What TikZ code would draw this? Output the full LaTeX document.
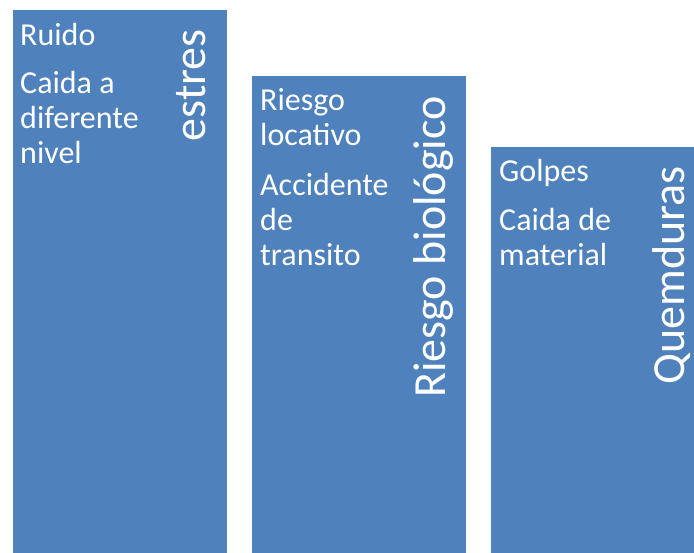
\documentclass[tikz,border=0pt]{standalone}
\usepackage{fontspec}
\setmainfont{Carlito}
\usepackage{tikz}
\usetikzlibrary{positioning}
\usepackage{xcolor}
\definecolor{riskblue}{RGB}{79,129,189}
\tikzstyle{riskbox} = [rectangle, minimum width=214pt, inner sep=0pt, outer sep=0pt, fill=riskblue, draw=none]
\tikzstyle{item} = [inner sep=0pt, align=left, text=white, font=\fontsize{32}{35}\selectfont]
\tikzstyle{title} = [inner sep=0pt, rotate=90, text=white, font=\fontsize{46}{55}\selectfont]

\begin{document}
\begin{tikzpicture}[x=1pt, y=1pt]
\useasboundingbox (0,0) rectangle (694,-553);
% Columns
\node (boxA) [riskbox, minimum height=543pt, anchor=north west] at (13,-10) {};
\node (boxB) [riskbox, minimum height=477pt, anchor=north west] at (252,-76) {};
\node (boxC) [riskbox, minimum height=406pt, anchor=north west] at (491,-147) {};

% Column titles
\node (estres) [title, anchor=base east] at ([xshift=-22pt,yshift=-19pt]boxA.north east) {estres};
\node (biologico) [title, anchor=base east] at ([xshift=-21pt,yshift=-20pt]boxB.north east) {Riesgo biológico};
\node (quemduras) [title, anchor=base east] at ([xshift=-21pt,yshift=-19pt]boxC.north east) {Quemduras};

% Items (base = last line)
\node (ruido) [item, anchor=base west] at ([xshift=7pt,yshift=-36pt]boxA.north west) {Ruido};
\node (caida) [item, anchor=base west] at ([xshift=7pt,yshift=-154pt]boxA.north west) {Caida a\\diferente\\nivel};
\node (locativo) [item, anchor=base west] at ([xshift=8pt,yshift=-70pt]boxB.north west) {Riesgo\\locativo};
\node (transito) [item, anchor=base west] at ([xshift=8pt,yshift=-190pt]boxB.north west) {Accidente\\de\\transito};
\node (golpes) [item, anchor=base west] at ([xshift=8pt,yshift=-35pt]boxC.north west) {Golpes};
\node (material) [item, anchor=base west] at ([xshift=8pt,yshift=-119pt]boxC.north west) {Caida de\\material};
\end{tikzpicture}
\end{document}
